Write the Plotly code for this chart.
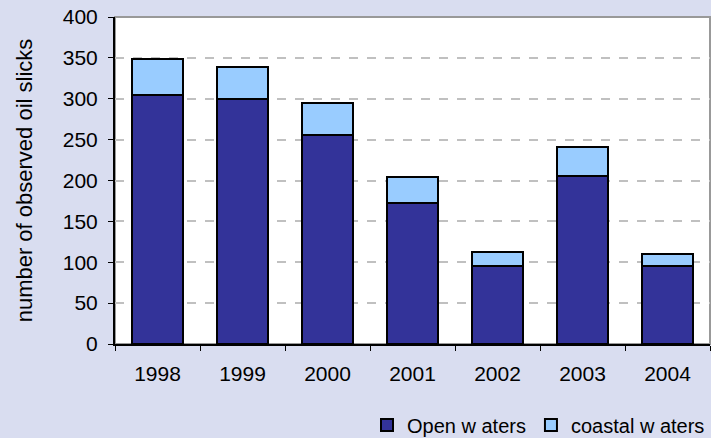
import plotly.graph_objects as go

years = ["1998", "1999", "2000", "2001", "2002", "2003", "2004"]
open_waters = [304, 300, 256, 173, 95, 205, 95]
coastal_waters = [45, 39, 39, 31, 17, 36, 15]
y_ticks = [0, 50, 100, 150, 200, 250, 300, 350, 400]

fig = go.Figure()
fig.add_trace(go.Bar(x=years, y=open_waters, name="Open w aters",
                     marker=dict(color="#333399", line=dict(color="black", width=2))))
fig.add_trace(go.Bar(x=years, y=coastal_waters, name="coastal w aters",
                     marker=dict(color="#99ccff", line=dict(color="black", width=2))))

fig.update_layout(
    barmode="stack",
    bargap=0.39,
    width=711, height=438,
    margin=dict(l=115, r=1, t=17, b=94, autoexpand=False),
    paper_bgcolor="#d9ddf0",
    plot_bgcolor="white",
    font=dict(family="Liberation Sans, Arial, sans-serif", size=21, color="black"),
    legend=dict(orientation="h", x=1.0, xanchor="right", y=-0.248, yanchor="middle",
                bgcolor="rgba(0,0,0,0)", font=dict(size=20), traceorder="normal",
                itemwidth=30, tracegroupgap=0),
    shapes=[dict(type="rect", xref="paper", yref="paper", x0=0, x1=1, y0=0, y1=1,
                 line=dict(color="#999999", width=2), layer="below")],
)
fig.update_xaxes(showline=True, linecolor="black", linewidth=2, ticks="outside",
                 tickson="boundaries", ticklen=5, tickcolor="black", showgrid=False,
                 ticklabelstandoff=10)
fig.update_yaxes(range=[0, 400], tickvals=y_ticks, showline=True, linecolor="black",
                 linewidth=2, ticks="outside", ticklen=5, tickcolor="black",
                 gridcolor="#c0c0c0", griddash="dash", gridwidth=1.5,
                 ticklabelstandoff=6,
                 title=dict(text="number of observed oil slicks", font=dict(size=22), standoff=24),
                 zeroline=False)

fig.write_html("out.html", config={"displayModeBar": False},
               post_script="document.body.style.margin='0';")
